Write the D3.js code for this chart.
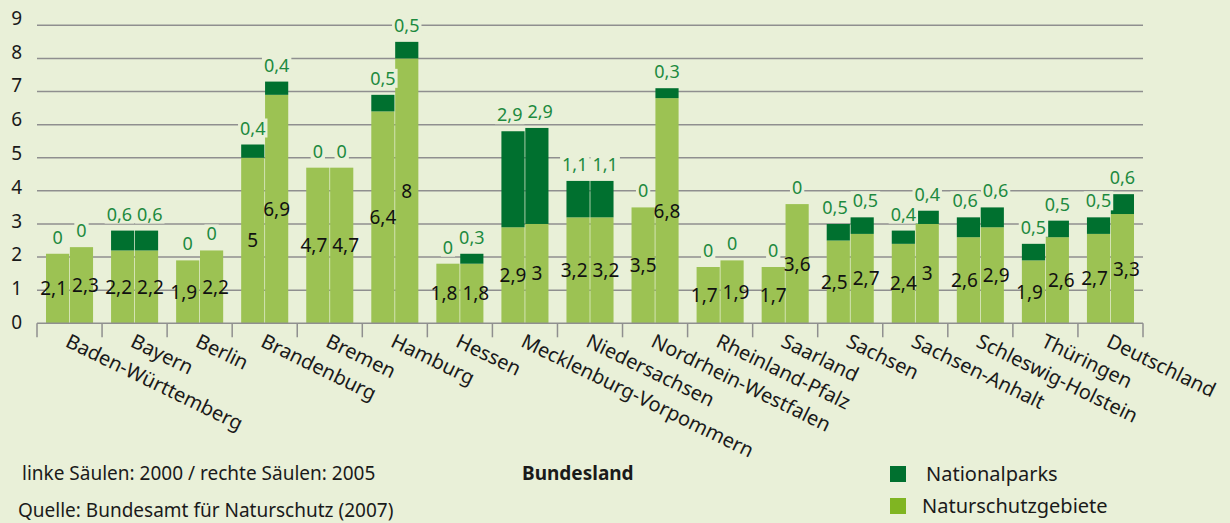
<!DOCTYPE html>
<html>
<head>
<meta charset="utf-8">
<script src="https://cdn.jsdelivr.net/npm/d3@7"></script>
<style>
  body { margin: 0; background: #e9f0d8; }
  svg { display: block; font-family: "Noto Sans", sans-serif; }
</style>
</head>
<body>
<div id="chart"></div>
<script>
// data
const laender = ["Baden-Württemberg", "Bayern", "Berlin", "Brandenburg", "Bremen", "Hamburg",
  "Hessen", "Mecklenburg-Vorpommern", "Niedersachsen", "Nordrhein-Westfalen", "Rheinland-Pfalz",
  "Saarland", "Sachsen", "Sachsen-Anhalt", "Schleswig-Holstein", "Thüringen", "Deutschland"];
const jahre = ["2000", "2005"];
const nsg2000 = [2.1, 2.2, 1.9, 5, 4.7, 6.4, 1.8, 2.9, 3.2, 3.5, 1.7, 1.7, 2.5, 2.4, 2.6, 1.9, 2.7];
const np2000  = [0, 0.6, 0, 0.4, 0, 0.5, 0, 2.9, 1.1, 0, 0, 0, 0.5, 0.4, 0.6, 0.5, 0.5];
const nsg2005 = [2.3, 2.2, 2.2, 6.9, 4.7, 8, 1.8, 3, 3.2, 6.8, 1.9, 3.6, 2.7, 3, 2.9, 2.6, 3.3];
const np2005  = [0, 0.6, 0, 0.4, 0, 0.5, 0.3, 2.9, 1.1, 0.3, 0, 0, 0.5, 0.4, 0.6, 0.5, 0.6];
const yTicks = [0, 1, 2, 3, 4, 5, 6, 7, 8, 9];
const legend = ["Nationalparks", "Naturschutzgebiete"];

const W = 1230, H = 523;
const col = { bg: "#e9f0d8", dark: "#00702f", light: "#9cc253", legLight: "#80b522", lab: "#1d8a3f", grid: "#8f8f8f" };
const fmt = v => String(v).replace(".", ",");

const svg = d3.select("#chart").append("svg").attr("width", W).attr("height", H);
svg.append("rect").attr("width", W).attr("height", H).attr("fill", col.bg);

const x = d3.scaleBand().domain(laender).range([37, 1143]).padding(0);
const xi = d3.scaleBand().domain(jahre).range([9, x.bandwidth() - 9]).paddingInner(0.03);
const y = d3.scaleLinear().domain([0, 9]).range([323.3, 25.3]);
const yLab = d3.scaleLinear().domain([0, 9]).range([322, 18]);

// gridlines
svg.append("g").selectAll("line").data(yTicks.slice(1)).enter().append("line")
  .attr("x1", 37).attr("x2", 1143)
  .attr("y1", d => y(d)).attr("y2", d => y(d))
  .attr("stroke", col.grid).attr("stroke-width", 1.5);

// y tick labels
svg.append("g").selectAll("text").data(yTicks).enter().append("text")
  .attr("x", 22).attr("y", d => yLab(d)).attr("dy", "0.36em")
  .attr("text-anchor", "end").attr("font-size", 19).attr("fill", "#1a1a1a")
  .text(d => d);

// rows: one per land & year
const rows = [];
laender.forEach((l, i) => {
  rows.push({ land: l, jahr: "2000", nsg: nsg2000[i], np: np2000[i] });
  rows.push({ land: l, jahr: "2005", nsg: nsg2005[i], np: np2005[i] });
});
const bx = d => x(d.land) + xi(d.jahr);
const cx = d => bx(d) + xi.bandwidth() / 2;

const bars = svg.append("g");
bars.selectAll("rect.nsg").data(rows).enter().append("rect")
  .attr("class", "nsg")
  .attr("x", bx).attr("width", xi.bandwidth())
  .attr("y", d => y(d.nsg)).attr("height", d => y(0) - y(d.nsg))
  .attr("fill", col.light);
bars.selectAll("rect.np").data(rows.filter(d => d.np > 0)).enter().append("rect")
  .attr("class", "np")
  .attr("x", bx).attr("width", xi.bandwidth())
  .attr("y", d => y(d.nsg + d.np)).attr("height", d => y(d.nsg) - y(d.nsg + d.np))
  .attr("fill", col.dark);

// x axis
const axis = svg.append("g");
axis.append("line").attr("x1", 37).attr("x2", 1143).attr("y1", y(0)).attr("y2", y(0))
  .attr("stroke", col.grid).attr("stroke-width", 1.5);
axis.selectAll("line.tick").data(d3.range(laender.length + 1)).enter().append("line")
  .attr("class", "tick")
  .attr("x1", i => 37 + i * x.step()).attr("x2", i => 37 + i * x.step())
  .attr("y1", y(0)).attr("y2", y(0) + 14)
  .attr("stroke", col.grid).attr("stroke-width", 1.5);
axis.selectAll("text").data(laender).enter().append("text")
  .attr("transform", d => `translate(${x(d) + x.bandwidth() / 2 + 1}, 333) rotate(26)`)
  .attr("dy", "0.72em").attr("font-size", 20).attr("fill", "#1a1a1a")
  .text(d => d);

// push the two labels of one land apart when they would touch
function spread(sel, yOf) {
  const nodes = sel.nodes();
  for (let i = 0; i < nodes.length; i += 2) {
    const a = d3.select(nodes[i]), b = d3.select(nodes[i + 1]);
    const da = a.datum(), db = b.datum();
    if (Math.abs(yOf(da) - yOf(db)) > 16) continue;
    const wa = nodes[i].getComputedTextLength(), wb = nodes[i + 1].getComputedTextLength();
    const need = (wa + wb) / 2 + 5 - (cx(db) - cx(da));
    if (need > 0) {
      a.attr("x", cx(da) - need / 2);
      b.attr("x", cx(db) + need / 2);
    }
  }
}

// Nationalparks labels above the bars
const npTop = d => y(d.nsg + d.np) - 10;
const npG = svg.append("g");
const npBg = npG.append("g");
const npText = npG.append("g").selectAll("text").data(rows).enter().append("text")
  .attr("x", cx).attr("y", npTop)
  .attr("text-anchor", "middle").attr("font-size", 18).attr("fill", col.lab)
  .text(d => fmt(d.np));
spread(npText, npTop);
npText.each(function () {
  const b = this.getBBox();
  npBg.append("rect").attr("x", b.x - 2).attr("y", b.y + 3)
    .attr("width", b.width + 4).attr("height", b.height - 5).attr("fill", col.bg);
});

// Naturschutzgebiete labels inside the bars
const nsgMid = d => y(d.nsg / 2);
const nsgText = svg.append("g").selectAll("text").data(rows).enter().append("text")
  .attr("x", cx).attr("y", nsgMid).attr("dy", "0.36em")
  .attr("text-anchor", "middle").attr("font-size", 19).attr("fill", "#111")
  .text(d => fmt(d.nsg));
spread(nsgText, nsgMid);

// footer texts
svg.append("text").attr("x", 22).attr("y", 473).attr("dy", "0.36em")
  .attr("font-size", 19).attr("fill", "#1a1a1a").text("linke Säulen: 2000 / rechte Säulen: 2005");
svg.append("text").attr("x", 18).attr("y", 510).attr("dy", "0.36em")
  .attr("font-size", 19).attr("fill", "#1a1a1a").text("Quelle: Bundesamt für Naturschutz (2007)");
svg.append("text").attr("x", 522).attr("y", 473).attr("dy", "0.36em")
  .attr("font-size", 19).attr("font-weight", "bold").attr("fill", "#1a1a1a").text("Bundesland");

// legend
const leg = svg.append("g").selectAll("g").data(legend).enter().append("g")
  .attr("transform", (d, i) => `translate(890, ${466 + i * 32})`);
leg.append("rect").attr("width", 16).attr("height", 16)
  .attr("fill", (d, i) => i === 0 ? col.dark : col.legLight);
leg.append("text").attr("x", (d, i) => i === 0 ? 36 : 32).attr("y", 8).attr("dy", "0.36em")
  .attr("font-size", 20).attr("fill", "#1a1a1a").text(d => d);
</script>
</body>
</html>
